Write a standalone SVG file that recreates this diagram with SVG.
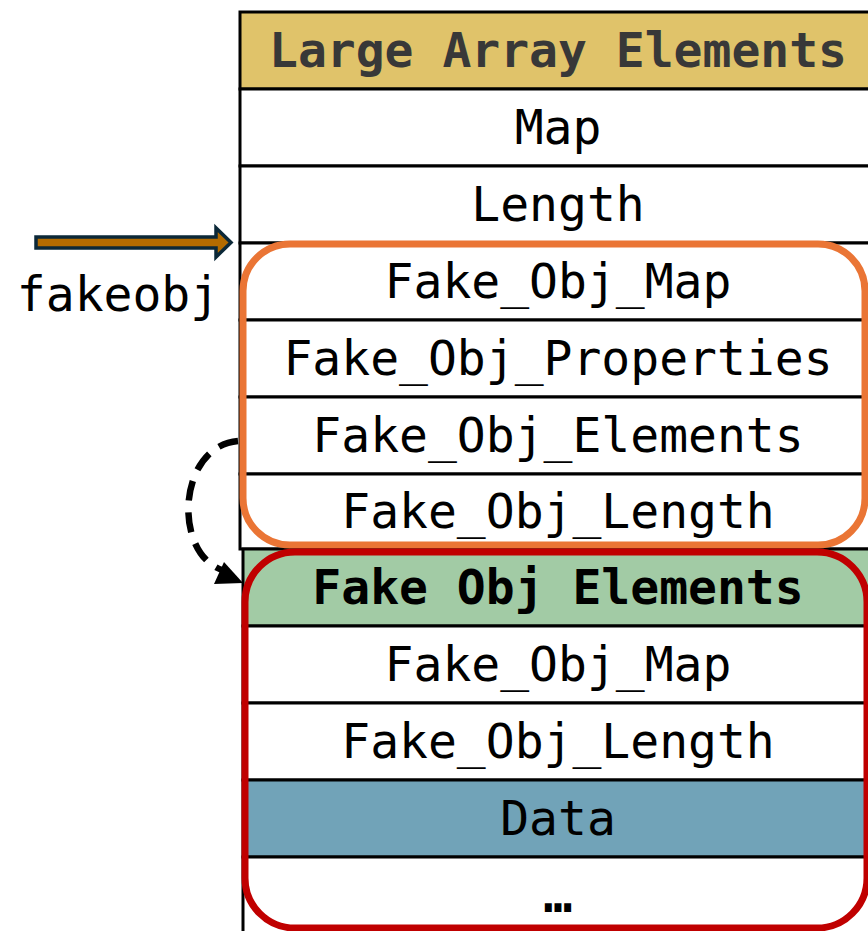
<svg xmlns="http://www.w3.org/2000/svg" width="868" height="931" viewBox="0 0 868 931">
<style>
.cell{stroke:#000;stroke-width:3}
.t{font-family:"DejaVu Sans Mono","Liberation Mono",monospace;font-size:48px;text-anchor:middle;fill:#000}
.b{font-weight:bold}
</style>
<rect width="868" height="931" fill="#fff"/>
<g id="large-array">
  <g id="hdr"><rect class="cell" x="240" y="12" width="640" height="77" fill="#E0C36A"/><text class="t b" x="558" y="67" style="fill:#383838">Large Array Elements</text></g>
  <g id="map"><rect class="cell" x="240" y="89" width="640" height="77" fill="#fff"/><text class="t" x="558" y="144">Map</text></g>
  <g id="length"><rect class="cell" x="240" y="166" width="640" height="77" fill="#fff"/><text class="t" x="558" y="221">Length</text></g>
  <g id="fo-map"><rect class="cell" x="240" y="243" width="640" height="77" fill="#fff"/><text class="t" x="558" y="298">Fake_Obj_Map</text></g>
  <g id="fo-props"><rect class="cell" x="240" y="320" width="640" height="77" fill="#fff"/><text class="t" x="558" y="375">Fake_Obj_Properties</text></g>
  <g id="fo-elems"><rect class="cell" x="240" y="397" width="640" height="77" fill="#fff"/><text class="t" x="558" y="452">Fake_Obj_Elements</text></g>
  <g id="fo-len"><rect class="cell" x="240" y="474" width="640" height="75" fill="#fff"/><text class="t" x="558" y="528">Fake_Obj_Length</text></g>
</g>
<g id="fake-obj-elements">
  <g id="hdr2"><rect class="cell" x="243" y="549" width="640" height="77" fill="#A2CBA5"/><text class="t b" x="558" y="604">Fake Obj Elements</text></g>
  <g id="map2"><rect class="cell" x="243" y="626" width="640" height="77" fill="#fff"/><text class="t" x="558" y="681">Fake_Obj_Map</text></g>
  <g id="len2"><rect class="cell" x="243" y="703" width="640" height="77" fill="#fff"/><text class="t" x="558" y="758">Fake_Obj_Length</text></g>
  <g id="data"><rect class="cell" x="243" y="780" width="640" height="77" fill="#71A3B8"/><text class="t" x="558" y="835">Data</text></g>
  <g id="more"><rect class="cell" x="243" y="857" width="640" height="80" fill="#fff"/><text class="t b" x="558" y="912">…</text></g>
</g>
<g id="orange-box"><rect x="243" y="244" width="622" height="301" rx="47" fill="none" stroke="#EA7535" stroke-width="7"/></g>
<g id="red-box"><rect x="245" y="552" width="622" height="376" rx="50" fill="none" stroke="#C00000" stroke-width="7"/></g>
<g id="connectors">
  <polygon points="36,237 216,237 216,228 231,242.5 216,257 216,248 36,248" fill="#B36B00" stroke="#0B2838" stroke-width="3.5" stroke-linejoin="miter"/>
  <path d="M238,441 C178,446 172,552 222,570" fill="none" stroke="#000" stroke-width="6.5" stroke-dasharray="20,12"/>
  <polygon points="224,562 214,584 243,583" fill="#000"/>
</g>
<g id="label"><text class="t" x="118" y="311">fakeobj</text></g>
</svg>
